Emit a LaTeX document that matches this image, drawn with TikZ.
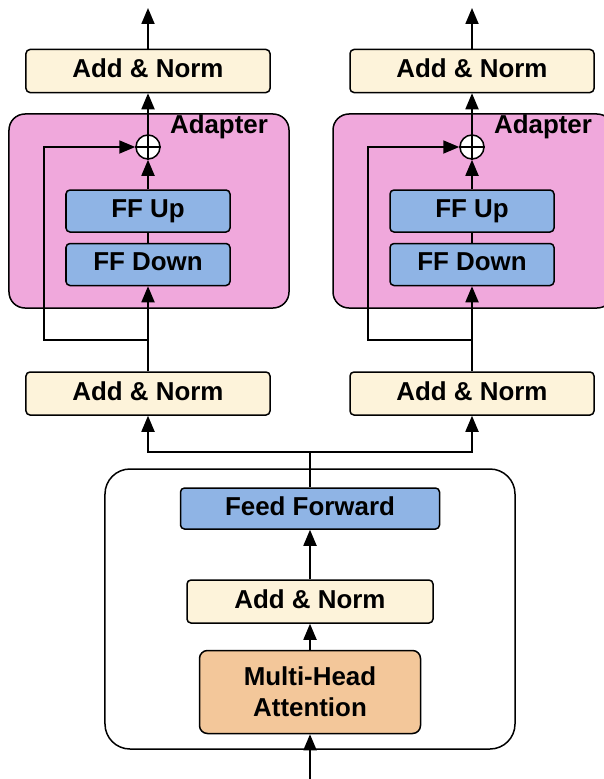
\documentclass[tikz,border=0pt]{standalone}
\usepackage{fontspec}
\setmainfont{Liberation Sans}
\usetikzlibrary{arrows.meta}
\definecolor{normColor}{HTML}{FDF3DA}
\definecolor{ffColor}{HTML}{8FB4E5}
\definecolor{adapterColor}{HTML}{F0A8DC}
\definecolor{mhaColor}{HTML}{F3C79A}
\def\textNorm{Add \& Norm}
\def\textAdapter{Adapter}
\def\textUp{FF Up}
\def\textDown{FF Down}
\def\textFF{Feed Forward}
\def\textMHA{Multi-Head\\Attention}

\begin{document}
\begin{tikzpicture}[x=1bp,y=-1bp,
  labelFont/.style={font=\fontsize{26}{31}\selectfont\bfseries},
  box/.style={draw=black, line width=1.5bp, rounded corners=4bp, inner sep=0pt, text depth=5bp, labelFont},
  normBox/.style={box, fill=normColor, minimum width=244bp, minimum height=43bp},
  ffBox/.style={box, fill=ffColor, minimum width=164bp, minimum height=42bp},
  adapterBox/.style={box, fill=adapterColor, rounded corners=16bp, minimum width=280bp, minimum height=194bp},
  adderDot/.style={circle, draw=black, fill=white, line width=1.5bp, minimum size=24bp, inner sep=0pt},
  link/.style={line width=1.8bp},
  arrowLink/.style={link, -{Triangle[length=16bp,width=13bp]}}]

\useasboundingbox (0,0) rectangle (604,779);

% encoder block
\begin{scope}
\node[box, fill=white, rounded corners=25bp, minimum width=410bp, minimum height=280bp] (encoder) at (310, 609) {};
\node[box, fill=mhaColor, rounded corners=8bp, minimum width=221bp, minimum height=83bp, align=center, text depth=0bp] (mha) at (310, 692) {\textMHA};
\node[normBox, minimum width=246bp] (normMain) at (310, 601.5) {\textNorm};
\node[box, fill=ffColor, minimum width=259bp, minimum height=41bp] (ffMain) at (310, 508.5) {\textFF};
\coordinate (inMain) at (310, 779);
\coordinate (split) at (310, 452);
\end{scope}

% left column
\begin{scope}
\node[normBox] (normBotA) at (148, 393.5) {\textNorm};
\node[adapterBox] (adapterA) at (149, 211) {};
\node[labelFont, inner sep=0pt] (adapterLabelA) at (219, 127) {\textAdapter};
\node[ffBox] (ffDownA) at (148, 264.5) {\textDown};
\node[ffBox] (ffUpA) at (148, 211) {\textUp};
\node[adderDot] (addA) at (148, 147) {};
\node[normBox] (normTopA) at (148, 71) {\textNorm};
\coordinate (skipA) at (148, 340);
\coordinate (skipCornerA) at (44, 340);
\coordinate (outA) at (148, 8);
\end{scope}

% right column
\begin{scope}
\node[normBox] (normBotB) at (472, 393.5) {\textNorm};
\node[adapterBox] (adapterB) at (473, 211) {};
\node[labelFont, inner sep=0pt] (adapterLabelB) at (543, 127) {\textAdapter};
\node[ffBox] (ffDownB) at (472, 264.5) {\textDown};
\node[ffBox] (ffUpB) at (472, 211) {\textUp};
\node[adderDot] (addB) at (472, 147) {};
\node[normBox] (normTopB) at (472, 71) {\textNorm};
\coordinate (skipB) at (472, 340);
\coordinate (skipCornerB) at (368, 340);
\coordinate (outB) at (472, 8);
\end{scope}

% link layer
\begin{scope}
\draw[arrowLink] (inMain) -- (mha.south);
\draw[arrowLink] (mha.north) -- (normMain.south);
\draw[arrowLink] (normMain.north) -- (ffMain.south);
\draw[link] (ffMain.north) -- (split);
\draw[arrowLink] (split) -| (normBotA.south);
\draw[arrowLink] (split) -| (normBotB.south);

\draw[arrowLink] (normBotA.north) -- (ffDownA.south);
\draw[link] (ffDownA.north) -- (ffUpA.south);
\draw[arrowLink] (ffUpA.north) -- (addA.south);
\draw[arrowLink] (skipA) -- (skipCornerA) |- (addA.west);
\draw[arrowLink] (addA.north) -- (normTopA.south);
\draw[arrowLink] (normTopA.north) -- (outA);

\draw[arrowLink] (normBotB.north) -- (ffDownB.south);
\draw[link] (ffDownB.north) -- (ffUpB.south);
\draw[arrowLink] (ffUpB.north) -- (addB.south);
\draw[arrowLink] (skipB) -- (skipCornerB) |- (addB.west);
\draw[arrowLink] (addB.north) -- (normTopB.south);
\draw[arrowLink] (normTopB.north) -- (outB);
\end{scope}

% adders
\begin{scope}
\draw[line width=1.5bp] (addA.north) -- (addA.south) (addA.west) -- (addA.east);
\draw[line width=1.5bp] (addB.north) -- (addB.south) (addB.west) -- (addB.east);
\end{scope}

\end{tikzpicture}
\end{document}
